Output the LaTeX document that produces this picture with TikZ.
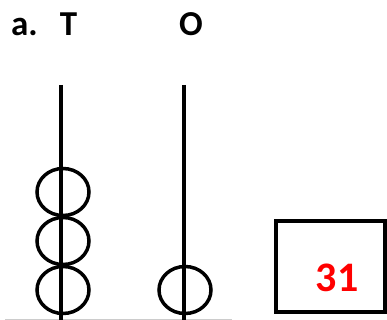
\documentclass[tikz,border=0pt]{standalone}
\usepackage{fontspec}
\setmainfont{Carlito}
\begin{document}
\begin{tikzpicture}[x=1pt,y=-1pt,
  rod/.style={line width=4pt,black},
  bead/.style={line width=3.5pt,black},
  lbl/.style={font=\bfseries\fontsize{35}{35}\selectfont,anchor=base,inner sep=0pt},
  ans/.style={font=\bfseries\fontsize{42}{42}\selectfont,anchor=base,inner sep=0pt,text=red},
  numbox/.style={line width=4pt,black}]
\useasboundingbox (0,0) rectangle (387,320);
% ground line
\draw[gray!40,line width=1pt] (5,319) -- (232,319);
% rods
\draw[rod] (60.5,85) -- (60.5,320);
\draw[rod] (184,85) -- (184,320);
% beads
\draw[bead] (63,192) ellipse [x radius=26, y radius=23.5];
\draw[bead] (63,241) ellipse [x radius=26, y radius=23.5];
\draw[bead] (63,290) ellipse [x radius=26, y radius=23.5];
\draw[bead] (185,290) ellipse [x radius=26, y radius=23.5];
% labels
\node[lbl,anchor=base west] (a) at (11,36) {a.};
\node[lbl] (T) at (68.5,36) {T};
\node[lbl] (O) at (191,36) {O};
% answer box
\draw[numbox] (276,221) rectangle (385,312);
\node[ans] (n) at (337,291) {31};
\end{tikzpicture}
\end{document}
